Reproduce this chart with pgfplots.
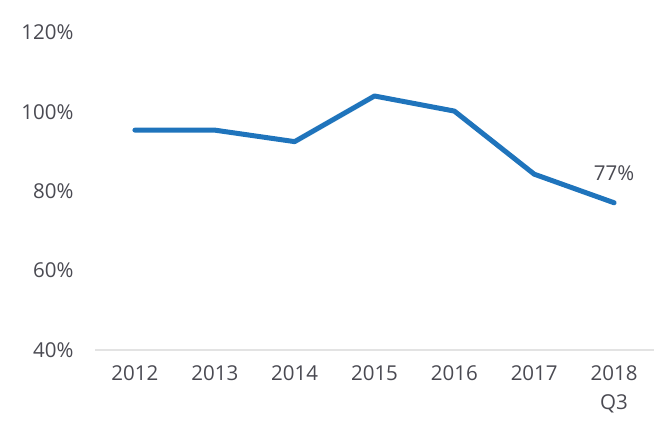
\documentclass[border=0pt]{standalone}
\usepackage{pgfplots}
\pgfplotsset{compat=1.18}
\usepackage{fontspec}
\setmainfont{Open Sans}
\definecolor{linec}{RGB}{31,116,188}
\definecolor{txt}{RGB}{74,74,82}
\begin{document}
\begin{tikzpicture}
\path[use as bounding box] (0,0) rectangle (665bp,443bp);
\begin{axis}[
  at={(95bp,93bp)}, anchor=south west,
  scale only axis, width=559bp, height=317.5bp,
  xmin=-0.5, xmax=6.5, ymin=40, ymax=120,
  xtick={0,...,6},
  xticklabels={2012,2013,2014,2015,2016,2017,{2018\\Q3}},
  ytick={40,60,80,100,120},
  yticklabel={\pgfmathprintnumber{\tick}\%},
  /pgf/number format/assume math mode=true,
  axis x line*=bottom, axis y line*=left,
  x axis line style={draw=gray!22, line width=1.5bp, -},
  y axis line style={draw=none},
  major tick length=0pt,
  tick style={draw=none},
  ticklabel style={font=\fontsize{20.5bp}{29bp}\selectfont, text=txt},
  xticklabel style={align=center, yshift=-12bp},
  yticklabel style={xshift=-18bp},
  clip=false,
]
\addplot[linec, line width=5bp, line cap=round, line join=round] coordinates {
(0,95.4) (1,95.4) (2,92.5) (3,104.0) (4,100.2) (5,84.3) (6,77.1)
};
\node[font=\fontsize{20.5bp}{23bp}\selectfont, text=txt] at (axis cs:6,84.5) {77\%};
\end{axis}
\end{tikzpicture}
\end{document}
